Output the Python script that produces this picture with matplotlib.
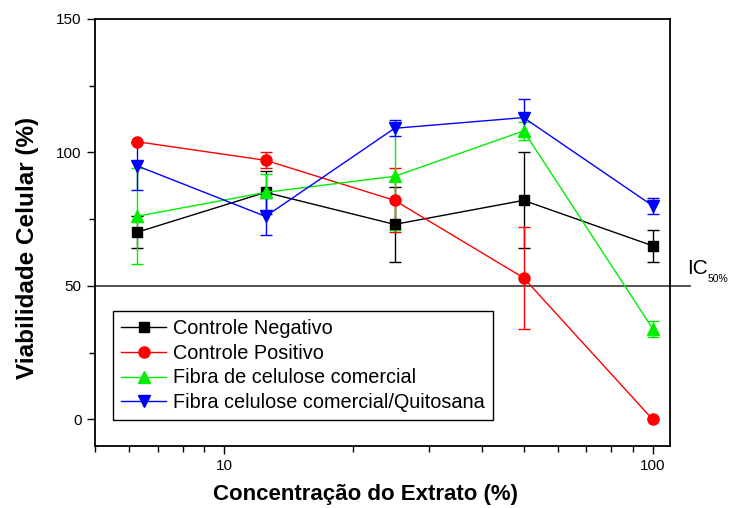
import matplotlib
matplotlib.use("Agg")
import matplotlib.pyplot as plt
import matplotlib.transforms as mtransforms
from matplotlib.ticker import LogLocator, NullFormatter, FixedLocator, FixedFormatter

plt.rcParams['font.family'] = ['Liberation Sans', 'DejaVu Sans']

# concentration of the extract (%)
conc = [6.25, 12.5, 25, 50, 100]

neg_mean = [70, 85, 73, 82, 65]
neg_err = [6, 8, 14, 18, 6]

pos_mean = [104, 97, 82, 53, 0]
pos_err = [0, 3, 12, 19, 0]

fib_mean = [76, 85, 91, 108, 34]
fib_err = [18, 7, 20, 3.5, 3]

quit_mean = [95, 76, 109, 113, 80]
quit_err = [9, 7, 3, 7, 3]

labels = ['Controle Negativo', 'Controle Positivo',
          'Fibra de celulose comercial', 'Fibra celulose comercial/Quitosana']

fig = plt.figure(figsize=(7.31, 5.08), dpi=100)
ax = fig.add_axes([0.130, 0.122, 0.787, 0.841])

series = [
    (neg_mean, neg_err, 'black', 's', 7),
    (pos_mean, pos_err, 'red', 'o', 8),
    (fib_mean, fib_err, '#00ee00', '^', 8),
    (quit_mean, quit_err, 'blue', 'v', 8),
]
handles = []
for (m, e, c, mk, ms), lab in zip(series, labels):
    cont = ax.errorbar(conc, m, yerr=e, color=c, marker=mk, markersize=ms,
                       linewidth=1, elinewidth=1, capsize=4, capthick=1,
                       label=lab)
    handles.append(cont.lines[0])

ax.set_xscale('log')
ax.set_xlim(5, 110)
ax.set_ylim(-10, 150)
ax.yaxis.set_major_locator(FixedLocator([0, 50, 100, 150]))
ax.yaxis.set_minor_locator(FixedLocator([25, 75, 125]))
ax.xaxis.set_major_locator(FixedLocator([10, 100]))
ax.xaxis.set_major_formatter(FixedFormatter(['10', '100']))
ax.xaxis.set_minor_locator(LogLocator(base=10, subs=range(2, 10)))
ax.xaxis.set_minor_formatter(NullFormatter())

ax.tick_params(which='both', direction='out', top=False, right=False,
               labelsize=11, width=1)
ax.tick_params(which='major', length=6)
ax.tick_params(which='minor', length=4)
for sp in ax.spines.values():
    sp.set_linewidth(1.3)

# IC50 reference line, running past the right axis
trans = mtransforms.blended_transform_factory(ax.transAxes, ax.transData)
ax.plot([0, 1.035], [50, 50], color='#444444', linewidth=1.3,
        transform=trans, clip_on=False, zorder=1)
ax.text(1.030, 53, 'IC', transform=trans, fontsize=15,
        ha='left', va='bottom')
ax.text(1.064, 50.5, '50%', transform=trans, fontsize=7.5,
        ha='left', va='bottom')

ax.set_xlabel('Concentração do Extrato (%)', fontsize=16, fontweight='bold')
ax.set_ylabel('Viabilidade Celular (%)', fontsize=17.5, fontweight='bold')
ax.xaxis.set_label_coords(0.471, -0.088)
ax.yaxis.set_label_coords(-0.097, 0.464)

leg = ax.legend(handles=handles, labels=labels, loc='lower left',
                bbox_to_anchor=(0.031, 0.061), borderaxespad=0, fontsize=14.3,
                frameon=True, fancybox=False, edgecolor='black', framealpha=1,
                borderpad=0.4, labelspacing=0.28, handlelength=2.3,
                handletextpad=0.35)
leg.get_frame().set_linewidth(1)

fig.savefig('out.png', dpi=100)
